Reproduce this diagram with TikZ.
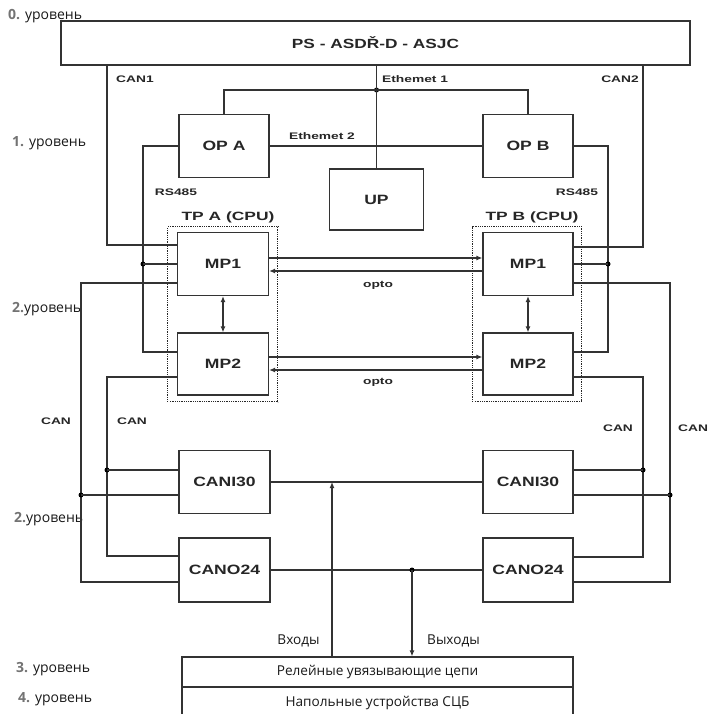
\documentclass[tikz,border=0pt]{standalone}
\usepackage{fontspec}
\setmainfont{Open Sans}
\newfontfamily\bx[FakeStretch=1.3]{Liberation Sans Bold}
\newfontfamily\sx[FakeStretch=1.45]{Liberation Sans Bold}
\usetikzlibrary{arrows.meta}
\begin{document}
\begin{tikzpicture}[x=1pt,y=-1pt,
  ln/.style={draw=black!80, line width=1.2pt},
  blk/.style={ln, fill=white, inner sep=0pt, font=\bx\fontsize{13.5}{15}\selectfont, text=black!85},
  tpbox/.style={draw=black!85, densely dotted, double, double distance=1pt, line width=0.8pt, inner sep=0pt},
  sm/.style={font=\sx\fontsize{9.5}{11}\selectfont, text=black!85, inner sep=0pt},
  tpl/.style={font=\sx\fontsize{12}{13}\selectfont, text=black!85, inner sep=0pt},
  lvl/.style={font=\fontsize{14}{16}\selectfont, anchor=west, inner sep=0pt, text=black!90},
  rus/.style={font=\fontsize{13.6}{15}\selectfont, inner sep=0pt, text=black!90},
  jdot/.style={circle, fill=black, inner sep=0pt, minimum size=5pt},
  arr/.style={ln, -{Latex[length=6pt,width=5pt]}},
  darr/.style={ln, {Latex[length=6pt,width=5pt]}-{Latex[length=6pt,width=5pt]}}
]
\useasboundingbox (0,0) rectangle (707,714);
\fill[white] (0,0) rectangle (707,714);
\clip (0,0) rectangle (707,714);

% level labels
\node[lvl] (l0) at (8,16) {{\bfseries\color{black!55}0.} уровень};
\node[lvl] (l1) at (12,143) {{\bfseries\color{black!55}1.} уровень};
\node[lvl] (l2a) at (12,309) {{\bfseries\color{black!55}2.}уровень};
\node[lvl] (l2b) at (14,519) {{\bfseries\color{black!55}2.}уровень};
\node[lvl] (l3) at (16,669) {{\bfseries\color{black!55}3.} уровень};
\node[lvl] (l4) at (18,699) {{\bfseries\color{black!55}4.} уровень};

% dotted CPU frames
\node[tpbox, minimum width=110pt, minimum height=175pt] (TPA) at (223,314.5) {};
\node[tpbox, minimum width=109pt, minimum height=175pt] (TPB) at (527.5,314.5) {};

% blocks
\node[blk, minimum width=629pt, minimum height=44pt, font=\bx\fontsize{13.3}{15}\selectfont] (PS) at (375.5,43) {PS - ASDŘ-D - ASJC};
\node[blk, minimum width=90pt, minimum height=63pt] (OPA) at (224,146) {OP A};
\node[blk, minimum width=90pt, minimum height=63pt] (OPB) at (528,146) {OP B};
\node[blk, minimum width=94pt, minimum height=61pt] (UP) at (376.5,199.5) {UP};
\node[blk, minimum width=91pt, minimum height=63pt] (MP1A) at (223,264) {MP1};
\node[blk, minimum width=91pt, minimum height=62pt] (MP2A) at (223,364) {MP2};
\node[blk, minimum width=90pt, minimum height=63pt] (MP1B) at (528,264) {MP1};
\node[blk, minimum width=90pt, minimum height=62pt] (MP2B) at (528,364) {MP2};
\node[blk, minimum width=91pt, minimum height=63pt] (CI30A) at (224.5,482) {CANI30};
\node[blk, minimum width=91pt, minimum height=64pt] (CO24A) at (224.5,570) {CANO24};
\node[blk, minimum width=90pt, minimum height=63pt] (CI30B) at (528,482) {CANI30};
\node[blk, minimum width=90pt, minimum height=64pt] (CO24B) at (528,570) {CANO24};
\node[blk, rus, draw=black!80, minimum width=391pt, minimum height=30pt] (REL) at (377.5,672) {Релейные увязывающие цепи};
\node[blk, rus, draw=black!80, minimum width=391pt, minimum height=36pt] (FLD) at (377.5,705) {};
\node[rus] (FLDt) at (FLD.center |- 0,703) {Напольные устройства СЦБ};

\node[tpl] (tpAl) at (228,217) {TP A (CPU)};
\node[tpl] (tpBl) at (532,217) {TP B (CPU)};

% bus coordinates
\coordinate (c1) at (107,245);
\coordinate (c2) at (643,247);
\coordinate (r1) at (143,352);
\coordinate (r2) at (608,352);
\coordinate (lo) at (81,283);
\coordinate (li) at (107,377);
\coordinate (ri) at (643,377);
\coordinate (ro) at (670,283);

% CAN1 / CAN2
\draw[ln] (PS.south -| c1) |- (MP1A.west |- c1);
\draw[ln] (PS.south -| c2) |- (MP1B.east |- c2);

% Ethernet 1
\node[jdot] (e1) at (376.5,90) {};
\draw[ln] (PS.south -| UP.north) -- (UP.north);
\draw[ln] (OPA.north) |- (e1.center) -| (OPB.north);
% Ethernet 2
\draw[ln] (OPA.east) -- (OPB.west);

% RS485
\draw[ln] (OPA.west) -| (r1) -- (MP2A.west |- r1);
\draw[ln] (OPB.east) -| (r2) -- (MP2B.east |- r2);
\node[jdot] (j1) at (143,264) {};
\node[jdot] (j2) at (608,264) {};
\draw[ln] (j1.center) -- (MP1A.west |- j1);
\draw[ln] (j2.center) -- (MP1B.east |- j2);

% opto links
\draw[arr] (MP1A.east |- 0,258) -- (MP1B.west |- 0,258);
\draw[arr] (MP1B.west |- 0,271) -- (MP1A.east |- 0,271);
\draw[arr] (MP2A.east |- 0,357) -- (MP2B.west |- 0,357);
\draw[arr] (MP2B.west |- 0,370) -- (MP2A.east |- 0,370);

% MP1 <-> MP2
\draw[darr] (MP1A.south) -- (MP2A.north);
\draw[darr] (MP1B.south) -- (MP2B.north);

% CAN buses left
\draw[ln] (MP1A.west |- lo) -- (lo) |- (CO24A.west |- 0,582);
\draw[ln] (MP2A.west |- li) -- (li) |- (CO24A.west |- 0,556);
\node[jdot] (jlo) at (81,495) {};
\node[jdot] (jli) at (107,470) {};
\draw[ln] (jlo.center) -- (CI30A.west |- jlo);
\draw[ln] (jli.center) -- (CI30A.west |- jli);

% CAN buses right
\draw[ln] (MP1B.east |- ro) -- (ro) |- (CO24B.east |- 0,582);
\draw[ln] (MP2B.east |- ri) -- (ri) |- (CO24B.east |- 0,557);
\node[jdot] (jro) at (670,495) {};
\node[jdot] (jri) at (643,470) {};
\draw[ln] (jro.center) -- (CI30B.east |- jro);
\draw[ln] (jri.center) -- (CI30B.east |- jri);

% I/O lines
\draw[ln] (CI30A.east) -- (CI30B.west);
\draw[ln] (CO24A.east) -- (CO24B.west);
\coordinate (inp) at (332,482);
\draw[arr] (REL.north -| inp) -- (inp);
\node[jdot] (jout) at (412,570) {};
\draw[arr] (jout.center) -- (REL.north -| jout);

% small labels
\node[sm] (tcan1) at (135,79) {CAN1};
\node[sm] (tcan2) at (620,79) {CAN2};
\node[sm, anchor=west] (teth1) at (382,79) {Ethemet 1};
\node[sm] (teth2) at (322,136) {Ethemet 2};
\node[sm] (trsA) at (176,192) {RS485};
\node[sm] (trsB) at (577,192) {RS485};
\node[sm] (topt1) at (378,285) {opto};
\node[sm] (topt2) at (378,382) {opto};
\node[sm] (tcanA) at (56,421) {CAN};
\node[sm] (tcanB) at (132,421) {CAN};
\node[sm] (tcanC) at (618,428) {CAN};
\node[sm, anchor=west] (tcanD) at (678,428) {CAN};
\node[rus] (tin) at (298.5,641) {Входы};
\node[rus] (tout) at (453.5,641) {Выходы};
\end{tikzpicture}
\end{document}
